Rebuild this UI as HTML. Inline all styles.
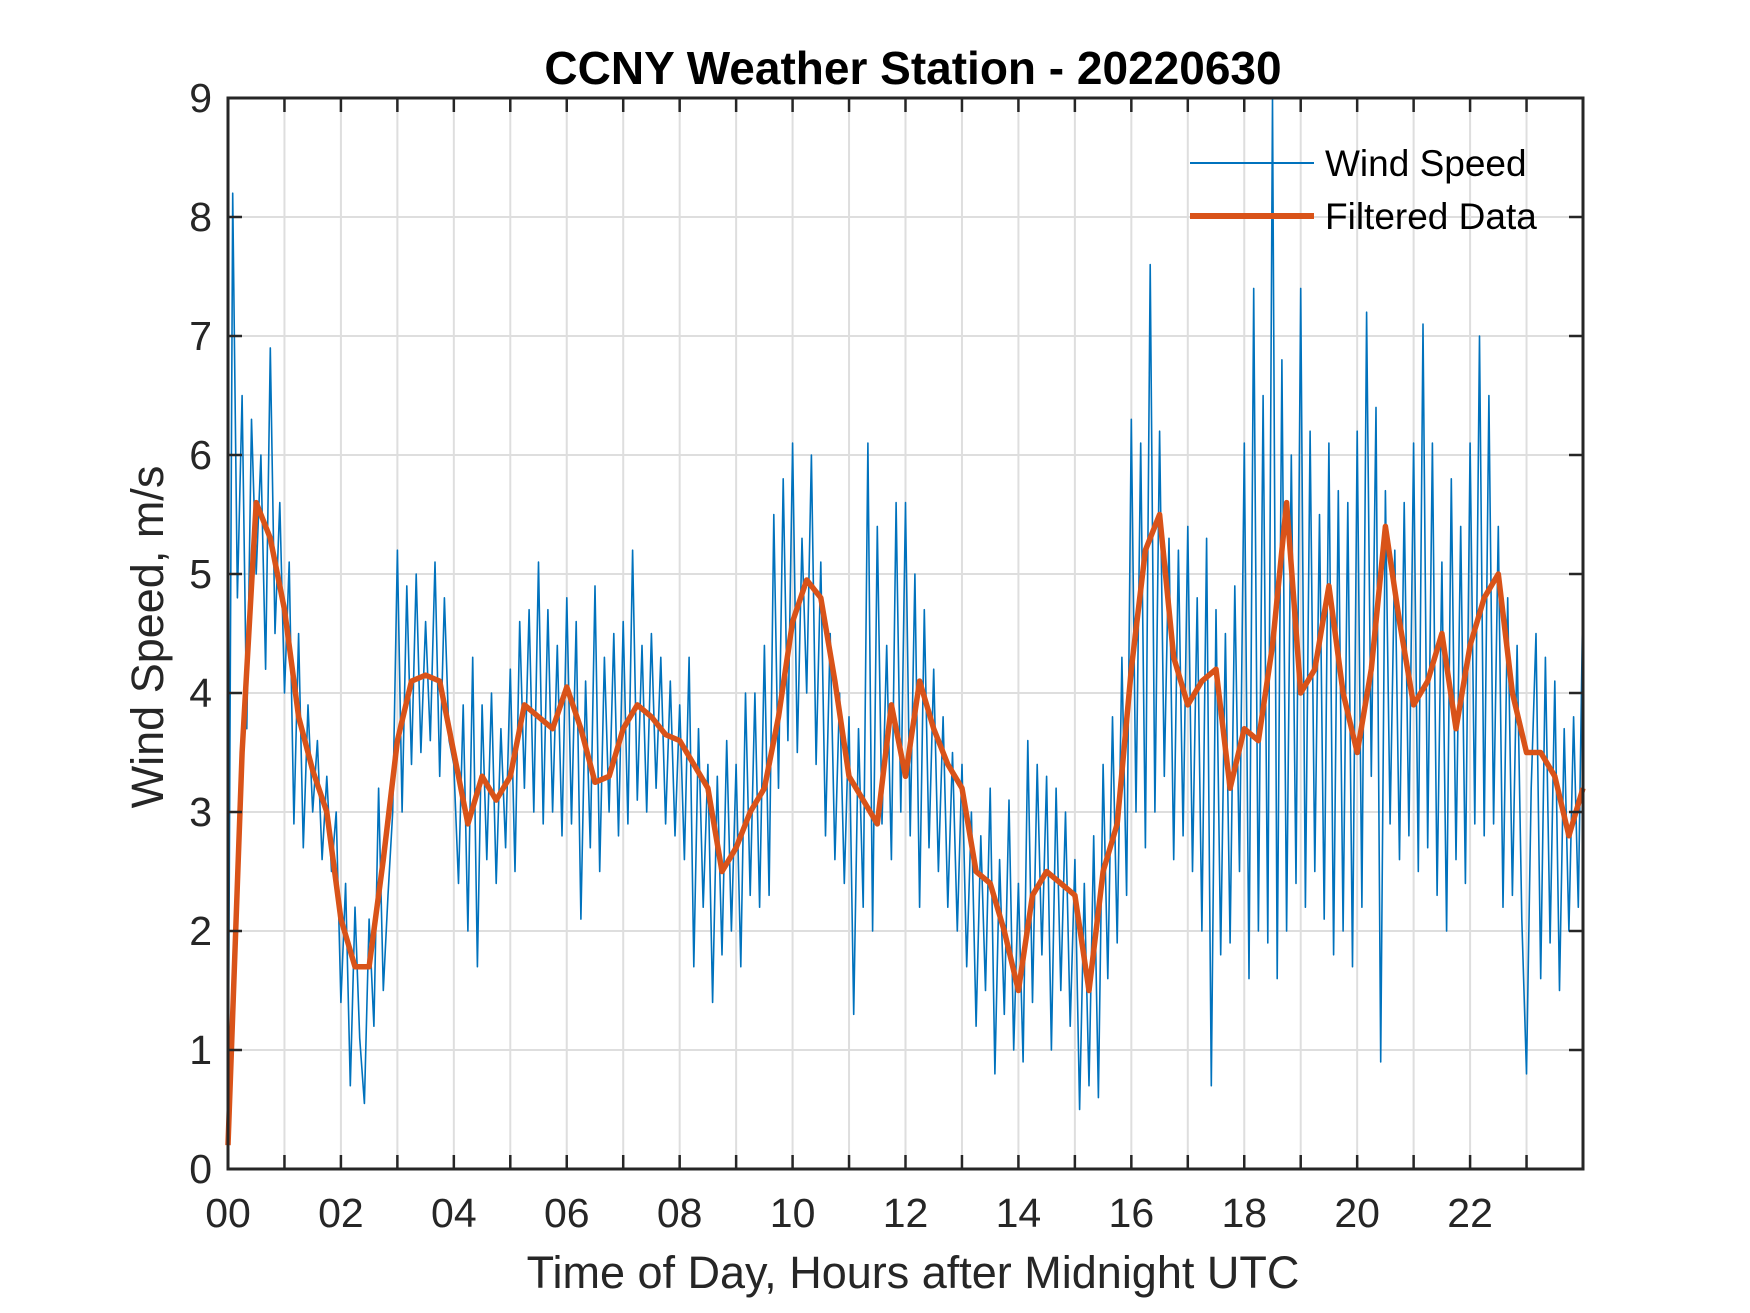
<!DOCTYPE html>
<html><head><meta charset="utf-8"><style>
html,body{margin:0;padding:0;background:#fff;}
svg{display:block;font-family:"Liberation Sans",Arial,sans-serif;}
</style></head><body>
<svg id="chart" width="1750" height="1313" viewBox="0 0 1750 1313" xmlns="http://www.w3.org/2000/svg">
<rect width="1750" height="1313" fill="#fff"/>
<g id="grid"></g>
<g id="series"></g>
<g id="axes"></g>
<text x="913" y="84" text-anchor="middle" font-size="46" font-weight="bold" fill="#000">CCNY Weather Station - 20220630</text>
<text x="913" y="1288" text-anchor="middle" font-size="45" fill="#262626">Time of Day, Hours after Midnight UTC</text>
<text transform="translate(163,637) rotate(-90)" text-anchor="middle" font-size="45" fill="#262626">Wind Speed, m/s</text>
<g>
<line x1="1190" y1="163" x2="1314" y2="163" stroke="#0072BD" stroke-width="2"/>
<text x="1325" y="176" font-size="37" fill="#000">Wind Speed</text>
<line x1="1190" y1="216" x2="1314" y2="216" stroke="#D95319" stroke-width="6"/>
<text x="1325" y="229" font-size="37" fill="#000">Filtered Data</text>
</g>
</svg>
<script>
const xTickLabels = ["00","02","04","06","08","10","12","14","16","18","20","22"];
const yTickLabels = ["0","1","2","3","4","5","6","7","8","9"];
// raw wind speed, every 5 minutes
const rawSpeed = [
0.3,8.2,4.8,6.5,3.7,6.3,5.0,6.0,4.2,6.9,4.5,5.6,
4.0,5.1,2.9,4.5,2.7,3.9,3.0,3.6,2.6,3.3,2.5,3.0,
1.4,2.4,0.7,2.2,1.1,0.55,2.1,1.2,3.2,1.5,2.3,3.0,
5.2,3.0,4.9,3.4,5.0,3.5,4.6,3.6,5.1,3.3,4.8,3.6,
3.4,2.4,3.9,2.0,4.3,1.7,3.9,2.6,4.0,2.4,3.7,2.7,
4.2,2.5,4.6,3.2,4.7,3.0,5.1,2.9,4.7,3.0,4.4,2.8,
4.8,2.9,4.6,2.1,4.1,2.7,4.9,2.5,4.3,3.0,4.5,2.8,
4.6,2.9,5.2,3.1,4.4,3.0,4.5,3.2,4.3,2.9,4.1,2.8,
3.9,2.6,4.3,1.7,3.7,2.2,3.4,1.4,3.3,1.8,3.6,2.0,
3.4,1.7,4.0,2.3,4.0,2.2,4.4,2.3,5.5,3.2,5.8,3.6,
6.1,3.5,5.3,4.0,6.0,3.4,5.1,2.8,4.5,2.6,4.0,2.4,
3.8,1.3,3.7,2.2,6.1,2.0,5.4,2.9,4.4,2.6,5.6,3.0,
5.6,2.8,5.0,2.2,4.7,2.7,4.2,2.5,3.8,2.2,3.5,2.0,
3.4,1.7,3.0,1.2,2.8,1.5,3.2,0.8,2.6,1.3,3.1,1.0,
2.4,0.9,3.6,1.4,3.4,1.8,3.3,1.0,3.2,1.5,3.0,1.2,
2.6,0.5,2.4,0.7,2.8,0.6,3.4,1.6,3.8,1.9,4.3,2.3,
6.3,3.0,6.1,2.7,7.6,3.0,6.2,3.3,5.3,2.6,5.2,2.8,
5.4,2.5,4.8,2.0,5.3,0.7,4.7,1.8,4.5,1.9,4.9,2.5,
6.1,1.6,7.4,2.0,6.5,1.9,9.0,1.6,6.8,2.0,6.0,2.4,
7.4,2.2,6.2,2.5,5.5,2.1,6.1,1.8,5.7,2.0,5.6,1.7,
6.2,2.2,7.2,3.3,6.4,0.9,5.7,2.9,5.2,2.6,5.6,2.8,
6.1,2.5,7.1,2.7,6.1,2.3,5.1,2.0,5.8,2.6,5.4,2.4,
6.1,2.9,7.0,2.8,6.5,2.9,5.4,2.2,4.8,2.3,4.4,2.1,
0.8,3.2,4.5,1.6,4.3,1.9,4.1,1.5,3.7,2.0,3.8,2.2,
4.9];
// filtered series, every 15 minutes
const filteredSpeed = [
0.2,3.5,5.6,5.3,4.7,3.8,3.35,3.0,2.1,1.7,1.7,2.6,
3.6,4.1,4.15,4.1,3.5,2.9,3.3,3.1,3.3,3.9,3.8,3.7,
4.05,3.7,3.25,3.3,3.7,3.9,3.8,3.65,3.6,3.4,3.2,2.5,
2.7,3.0,3.2,3.8,4.6,4.95,4.8,4.1,3.3,3.1,2.9,3.9,
3.3,4.1,3.7,3.4,3.2,2.5,2.4,2.0,1.5,2.3,2.5,2.4,
2.3,1.5,2.5,2.9,4.2,5.2,5.5,4.3,3.9,4.1,4.2,3.2,
3.7,3.6,4.4,5.6,4.0,4.2,4.9,4.0,3.5,4.2,5.4,4.6,
3.9,4.1,4.5,3.7,4.4,4.8,5.0,4.0,3.5,3.5,3.3,2.8,3.2];

const X0=228,X1=1583,Y0=1169,Y1=98,XMAX=24,YMAX=9;
const sx=h=>X0+(X1-X0)*h/XMAX;
const sy=v=>Y0-(Y0-Y1)*v/YMAX;
const NS="http://www.w3.org/2000/svg";
function mk(tag,attrs,parent){const e=document.createElementNS(NS,tag);for(const k in attrs)e.setAttribute(k,attrs[k]);parent.appendChild(e);return e;}
const grid=document.getElementById('grid'),axes=document.getElementById('axes'),series=document.getElementById('series');

for(let h=1;h<XMAX;h++){
  const l=mk('line',{x1:sx(h),x2:sx(h),y1:Y1,y2:Y0,stroke:'#dedede','stroke-width':2},grid);
  
  
  const t1=mk('line',{x1:sx(h),x2:sx(h),y1:Y0,y2:Y0-14,stroke:'#262626','stroke-width':2.5},axes);
  
  
  const t2=mk('line',{x1:sx(h),x2:sx(h),y1:Y1,y2:Y1+14,stroke:'#262626','stroke-width':2.5},axes);
  
  
}
xTickLabels.forEach((lab,i)=>{
  const t=mk('text',{x:sx(i*2),y:1227,'text-anchor':'middle','font-size':41,fill:'#262626'},axes);
  t.textContent=lab;
  
  
});
yTickLabels.forEach((lab,i)=>{
  const v=+lab;
  if(v>0&&v<YMAX){
    const g=mk('line',{x1:X0,x2:X1,y1:sy(v),y2:sy(v),stroke:'#dedede','stroke-width':2},grid);
    
    
    const a=mk('line',{x1:X0,x2:X0+14,y1:sy(v),y2:sy(v),stroke:'#262626','stroke-width':2.5},axes);
    
    
    const b=mk('line',{x1:X1,x2:X1-14,y1:sy(v),y2:sy(v),stroke:'#262626','stroke-width':2.5},axes);
    
    
  }
  const t=mk('text',{x:212,y:sy(v)+14,'text-anchor':'end','font-size':41,fill:'#262626'},axes);
  t.textContent=lab;
  
  
});
const box=mk('rect',{x:X0,y:Y1,width:X1-X0,height:Y0-Y1,fill:'none',stroke:'#262626','stroke-width':3},axes);



const rawPts=rawSpeed.map((v,i)=>sx(i*XMAX/(rawSpeed.length-1)).toFixed(1)+','+sy(v).toFixed(1)).join(' ');
const rl=mk('polyline',{points:rawPts,fill:'none',stroke:'#0072BD','stroke-width':1.6,'stroke-linejoin':'round'},series);


const fPts=filteredSpeed.map((v,i)=>sx(i*XMAX/(filteredSpeed.length-1)).toFixed(1)+','+sy(v).toFixed(1)).join(' ');
const fl=mk('polyline',{points:fPts,fill:'none',stroke:'#D95319','stroke-width':5.5,'stroke-linejoin':'round'},series);


</script>
</body></html>
